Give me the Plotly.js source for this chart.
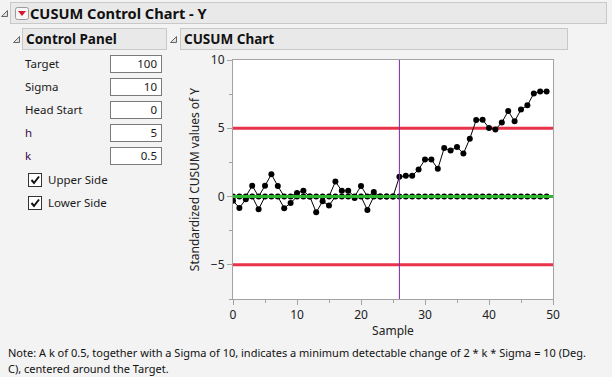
<!DOCTYPE html>
<html><head><meta charset="utf-8">
<script src="https://cdn.plot.ly/plotly-3.0.1.min.js"></script>
<style>
html,body{margin:0;padding:0;background:#f3f3f3;}
#wrap{position:relative;width:612px;height:377px;overflow:hidden;font-family:"Noto Sans",sans-serif;color:#1a1a1a;}
#chart{position:absolute;left:0;top:0;width:612px;height:377px;}
.hdr{position:absolute;background:#e9e9e9;border:1px solid #c8c8c8;box-sizing:border-box;font-weight:bold;color:#111;white-space:nowrap;}
.tri{position:absolute;}
.lbl{position:absolute;left:25px;font-size:11.5px;line-height:14px;white-space:nowrap;}
.box{position:absolute;left:110px;width:52px;height:18px;background:#fff;border:1px solid #7a7a7a;box-sizing:border-box;font-size:11.5px;line-height:16px;text-align:right;padding-right:4px;}
.chk{position:absolute;left:28px;width:14px;height:14px;border:1px solid #333;box-sizing:border-box;background:#fff;}
.chkl{position:absolute;left:48px;font-size:11.5px;line-height:14px;white-space:nowrap;}
#note{position:absolute;left:8px;top:345px;font-size:11px;line-height:16px;white-space:nowrap;color:#111;}
</style></head>
<body>
<div id="wrap">
<div id="chart"></div>

<svg class="tri" style="left:1px;top:10px" width="8" height="8"><polygon points="6.5,0.5 6.5,6.5 0.5,6.5" fill="#e0e0e0" stroke="#666" stroke-width="1"/></svg>
<div class="hdr" style="left:10px;top:2px;width:597px;height:22px;"></div>
<svg class="tri" style="left:15px;top:7px" width="14" height="13"><rect x="0.5" y="0.5" width="13" height="12" rx="2" fill="#f6f6f6" stroke="#9a9a9a"/><polygon points="3,4 11,4 7,9" fill="#d9182a"/></svg>
<div class="hdr" style="left:30px;top:3px;height:20px;border:none;background:none;font-size:14.6px;line-height:21px;">CUSUM Control Chart - Y</div>

<svg class="tri" style="left:13px;top:36px" width="8" height="8"><polygon points="6.5,0.5 6.5,6.5 0.5,6.5" fill="#e0e0e0" stroke="#666" stroke-width="1"/></svg>
<div class="hdr" style="left:22px;top:28px;width:145px;height:22px;font-size:13.5px;line-height:20px;padding-left:3px;">Control Panel</div>
<svg class="tri" style="left:170px;top:36px" width="8" height="8"><polygon points="6.5,0.5 6.5,6.5 0.5,6.5" fill="#e0e0e0" stroke="#666" stroke-width="1"/></svg>
<div class="hdr" style="left:180px;top:28px;width:388px;height:22px;font-size:13.5px;line-height:20px;padding-left:3px;">CUSUM Chart</div>

<div id="panel"></div>
<div id="note"></div>
</div>
<script>
// ---- data ----
const panelLabels = ["Target", "Sigma", "Head Start", "h", "k"];
const panelValues = ["100", "10", "0", "5", "0.5"];
const sideLabels = ["Upper Side", "Lower Side"];
const target = 100;
const sigma = 10;
const hLimit = 5;
const kValue = 0.5;
const changePoint = 26;
const samples = [0,1,2,3,4,5,6,7,8,9,10,11,12,13,14,15,16,17,18,19,20,21,22,23,24,25,26,27,28,29,30,31,32,33,34,35,36,37,38,39,40,41,42,43,44,45,46,47,48,49];
const upperCusum = [0,0,0,0.8,0,0.8,1.63,0.77,0,0,0.27,0.42,0,0,0,0,1.1,0.42,0.42,0,0.78,0,0.33,0,0,0,1.45,1.52,1.52,1.98,2.71,2.71,2.03,3.55,3.37,3.63,3.15,4.24,5.6,5.62,5.03,4.92,5.42,6.26,5.51,6.37,6.68,7.55,7.69,7.69];
const lowerCusum = [-0.3,-0.83,-0.2,0,-0.93,0,0,0,-0.85,-0.47,0,0,0,-1.15,-0.35,-0.65,0,0,0,-0.1,0,-0.98,0,0,0,0,0,0,0,0,0,0,0,0,0,0,0,0,0,0,0,0,0,0,0,0,0,0,0,0];
const xRange = [0, 50];
const yRange = [-7.5, 10];
const xTitle = "Sample";
const yTitle = "Standardized CUSUM values of Y";
const noteLines = ["Note: A k of 0.5, together with a Sigma of 10, indicates a minimum detectable change of 2 * k * Sigma = 10 (Deg.", "C), centered around the Target."];

// ---- control panel ----
const panel = document.getElementById('panel');
const rowTops = [55, 78, 101, 124, 147];
panelLabels.forEach((t, i) => {
  const l = document.createElement('div');
  l.className = 'lbl'; l.textContent = t;
  l.style.top = (rowTops[i] + 2) + 'px';
  if (t === 'h' || t === 'k') l.style.color = '#3d0a48';
  panel.appendChild(l);
  const b = document.createElement('div');
  b.className = 'box'; b.textContent = panelValues[i];
  b.style.top = rowTops[i] + 'px';
  panel.appendChild(b);
});
const chkTops = [173, 196];
sideLabels.forEach((t, i) => {
  const c = document.createElement('div');
  c.className = 'chk'; c.style.top = chkTops[i] + 'px';
  c.innerHTML = '<svg width="12" height="12" style="position:absolute;left:0;top:0"><polyline points="2.5,6 5,9 10,2.5" fill="none" stroke="#111" stroke-width="2"/></svg>';
  panel.appendChild(c);
  const l = document.createElement('div');
  l.className = 'chkl'; l.textContent = t; l.style.top = (chkTops[i]) + 'px';
  panel.appendChild(l);
});
document.getElementById('note').innerHTML = noteLines.join('<br>');

// ---- chart ----
const dataStyle = {mode: 'lines+markers', line: {color: '#000', width: 1}, marker: {color: '#000', size: 6}, hoverinfo: 'skip'};
const traces = [
  {x: xRange, y: [hLimit, hLimit], mode: 'lines', line: {color: '#e8334a', width: 3}, hoverinfo: 'skip'},
  {x: xRange, y: [-hLimit, -hLimit], mode: 'lines', line: {color: '#e8334a', width: 3}, hoverinfo: 'skip'},
  Object.assign({x: samples, y: upperCusum}, dataStyle),
  Object.assign({x: samples, y: lowerCusum}, dataStyle),
  {x: xRange, y: [0, 0], mode: 'lines', line: {color: '#2fb52f', width: 3}, hoverinfo: 'skip'},
  {x: [changePoint, changePoint], y: yRange, mode: 'lines', line: {color: '#7a2aa8', width: 1}, hoverinfo: 'skip'}
];
const axisCommon = {
  showgrid: false, zeroline: false, showline: true, linecolor: '#a3a3a3', linewidth: 1, mirror: true,
  ticks: 'outside', ticklen: 5, tickcolor: '#a3a3a3', tickwidth: 1,
  tickfont: {family: 'Noto Sans, sans-serif', size: 12, color: '#222'}
};
const layout = {
  width: 612, height: 377,
  margin: {l: 233, r: 59, t: 60, b: 78},
  paper_bgcolor: 'rgba(0,0,0,0)', plot_bgcolor: '#ffffff',
  showlegend: false, hovermode: false,
  xaxis: Object.assign({}, axisCommon, {range: xRange, tickvals: [0,10,20,30,40,50],
    minor: {tickvals: [5,15,25,35,45], ticklen: 3, tickcolor: '#a3a3a3', ticks: 'outside'},
    title: {text: xTitle, font: {family: 'Noto Sans, sans-serif', size: 12, color: '#222'}, standoff: 4}}),
  yaxis: Object.assign({}, axisCommon, {range: yRange, tickvals: [-5,0,5,10],
    minor: {tickvals: [-7.5,-2.5,2.5,7.5], ticklen: 3, tickcolor: '#a3a3a3', ticks: 'outside'},
    title: {text: yTitle, font: {family: 'Noto Sans, sans-serif', size: 12, color: '#222'}, standoff: 8}})
};
Plotly.newPlot('chart', traces, layout, {staticPlot: true, displayModeBar: false});
</script>
</body></html>
